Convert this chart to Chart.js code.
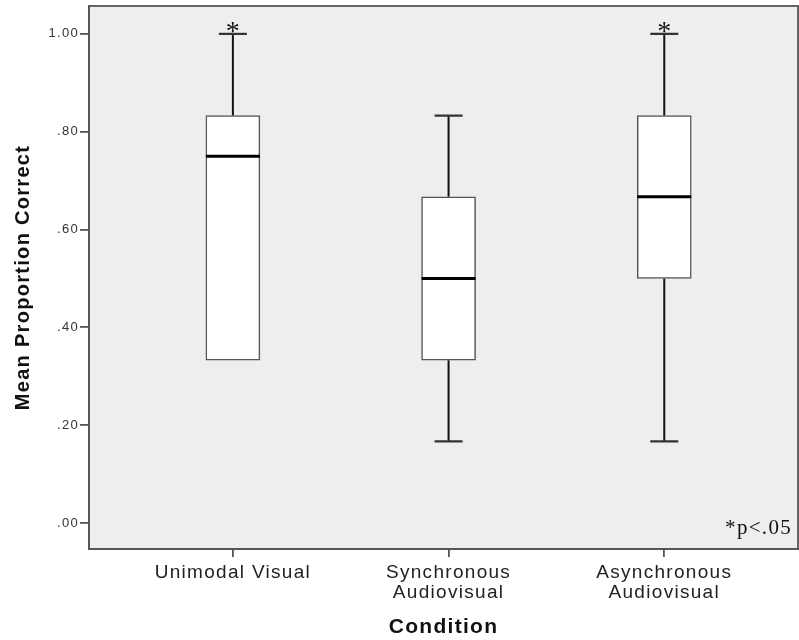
<!DOCTYPE html>
<html>
<head>
<meta charset="utf-8">
<script src="https://cdn.jsdelivr.net/npm/chart.js@4"></script>
<style>
html,body{margin:0;padding:0;background:#fff;}
#wrap{width:799px;height:640px;}
</style>
</head>
<body>
<div id="wrap"><canvas id="c" width="799" height="640"></canvas></div>
<script>
// ---- data ----
const categories = ["Unimodal Visual", "Synchronous\nAudiovisual", "Asynchronous\nAudiovisual"];
const whiskerMin = [0.333, 0.167, 0.167];
const q1Values   = [0.333, 0.333, 0.500];
const medians    = [0.750, 0.500, 0.667];
const q3Values   = [0.833, 0.667, 0.833];
const whiskerMax = [1.000, 0.833, 1.000];
const significant = [true, false, true];
const yTickValues = [0, 0.2, 0.4, 0.6, 0.8, 1.0];
const noteText = "*p<.05";

const boxData = categories.map((c, i) => ({ x: i + 1, y: [q1Values[i], q3Values[i]] }));

const SPACING = '1.3px';

const boxPlugin = {
  id: 'boxPlugin',
  beforeUpdate(chart) { chart.ctx.letterSpacing = SPACING; },
  beforeDraw(chart) {
    const { ctx, chartArea: a } = chart;
    ctx.letterSpacing = SPACING;
    ctx.save();
    ctx.fillStyle = '#EEEEEE';
    ctx.fillRect(a.left, a.top, a.right - a.left, a.bottom - a.top);
    ctx.restore();
  },
  beforeDatasetsDraw(chart) {
    const { ctx, scales: { x, y } } = chart;
    ctx.save();
    const capHalf = 14;
    categories.forEach((c, i) => {
      const px = x.getPixelForValue(i + 1);
      ctx.strokeStyle = '#111';
      ctx.lineWidth = 2;
      ctx.beginPath();
      ctx.moveTo(px, y.getPixelForValue(q3Values[i]));
      ctx.lineTo(px, y.getPixelForValue(whiskerMax[i]));
      ctx.moveTo(px, y.getPixelForValue(q1Values[i]));
      ctx.lineTo(px, y.getPixelForValue(whiskerMin[i]));
      ctx.stroke();
      ctx.lineWidth = 2.2;
      ctx.strokeStyle = '#333';
      ctx.beginPath();
      ctx.moveTo(px - capHalf, y.getPixelForValue(whiskerMax[i]));
      ctx.lineTo(px + capHalf, y.getPixelForValue(whiskerMax[i]));
      if (whiskerMin[i] < q1Values[i]) {
        ctx.moveTo(px - capHalf, y.getPixelForValue(whiskerMin[i]));
        ctx.lineTo(px + capHalf, y.getPixelForValue(whiskerMin[i]));
      }
      ctx.stroke();
    });
    ctx.restore();
  },
  afterDatasetsDraw(chart) {
    const { ctx, chartArea: a, scales: { x, y } } = chart;
    const meta = chart.getDatasetMeta(0);
    ctx.save();
    ctx.strokeStyle = '#000';
    ctx.lineWidth = 3;
    categories.forEach((c, i) => {
      const bar = meta.data[i];
      const half = bar.width / 2;
      const px = x.getPixelForValue(i + 1);
      const py = y.getPixelForValue(medians[i]);
      ctx.beginPath();
      ctx.moveTo(px - half, py);
      ctx.lineTo(px + half, py);
      ctx.stroke();
      if (significant[i]) {
        ctx.fillStyle = '#111';
        ctx.letterSpacing = '0px';
        ctx.font = '28px "Liberation Serif", "DejaVu Serif", serif';
        ctx.textAlign = 'center';
        ctx.textBaseline = 'alphabetic';
        ctx.fillText('*', px, y.getPixelForValue(whiskerMax[i]) + 6);
        ctx.letterSpacing = SPACING;
      }
    });
    // note
    ctx.fillStyle = '#111';
    ctx.font = '21px "Liberation Serif", "DejaVu Serif", serif';
    ctx.textAlign = 'right';
    ctx.textBaseline = 'alphabetic';
    ctx.fillText(noteText, a.right - 6, a.bottom - 15);
    // frame
    ctx.strokeStyle = '#555';
    ctx.lineWidth = 1.8;
    ctx.strokeRect(a.left, a.top, a.right - a.left, a.bottom - a.top);
    ctx.restore();
  }
};

new Chart(document.getElementById('c'), {
  type: 'bar',
  data: {
    datasets: [{
      data: boxData,
      backgroundColor: '#FFFFFF',
      borderColor: '#555',
      borderWidth: 1.5,
      borderSkipped: false,
      barThickness: 54
    }]
  },
  plugins: [boxPlugin],
  options: {
    responsive: false,
    animation: false,
    layout: { padding: { top: 6, right: 1, left: 0, bottom: 0 } },
    plugins: { legend: { display: false }, tooltip: { enabled: false } },
    scales: {
      x: {
        type: 'linear',
        min: 0.333,
        max: 3.62,
        offset: false,
        afterBuildTicks(scale) { scale.ticks = categories.map((c, i) => ({ value: i + 1 })); },
        afterFit(scale) { scale.height = 91; scale.paddingLeft = 0; scale.paddingRight = 0; },
        ticks: {
          autoSkip: false,
          maxRotation: 0,
          padding: 6,
          color: '#222',
          font: { family: '"Liberation Sans", Arial, sans-serif', size: 19, lineHeight: 1.03 },
          callback: (v) => { const l = categories[Math.round(v) - 1]; return l ? l.split('\n') : ''; }
        },
        grid: { offset: false, drawOnChartArea: false, drawTicks: true, tickLength: 8, color: '#555', lineWidth: 1.8 },
        border: { display: true, color: '#555', width: 1.8 },
        title: {
          display: true,
          text: 'Condition',
          color: '#111',
          font: { family: '"Liberation Sans", Arial, sans-serif', size: 21, weight: 'bold' },
          padding: { top: 0, bottom: 0 }
        }
      },
      y: {
        min: -0.053,
        max: 1.057,
        afterBuildTicks(scale) { scale.ticks = yTickValues.map(v => ({ value: v })); },
        afterFit(scale) { scale.width = 89; scale.paddingTop = 0; scale.paddingBottom = 0; },
        ticks: {
          padding: 1,
          color: '#333',
          font: { family: '"Liberation Sans", Arial, sans-serif', size: 13 },
          callback: (v) => v.toFixed(2).replace(/^0/, '')
        },
        grid: { drawOnChartArea: false, drawTicks: true, tickLength: 9, color: '#555', lineWidth: 1.8 },
        border: { display: true, color: '#555', width: 1.8 },
        title: {
          display: true,
          text: 'Mean Proportion Correct',
          color: '#111',
          font: { family: '"Liberation Sans", Arial, sans-serif', size: 20, weight: 'bold' },
          padding: { top: 11, bottom: 0 }
        }
      }
    }
  }
});
</script>
</body>
</html>
